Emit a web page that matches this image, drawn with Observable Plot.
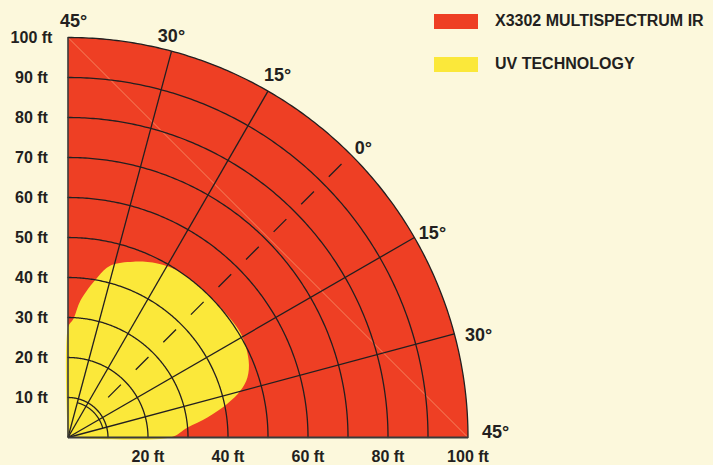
<!DOCTYPE html>
<html><head><meta charset="utf-8">
<script src="https://cdn.jsdelivr.net/npm/d3@7"></script>
<script src="https://cdn.jsdelivr.net/npm/@observablehq/plot@0.6"></script>
<style>
html,body{margin:0;padding:0;background:#fcf8dc;}
#wrap{position:relative;width:713px;height:465px;overflow:hidden;}
.lg{position:absolute;left:434px;display:flex;align-items:center;font:bold 16px "Liberation Sans",Arial,sans-serif;color:#231f20;white-space:nowrap;}
.sw{width:44px;height:15px;margin-right:17px;}
</style></head>
<body><div id="wrap"></div>
<script>
// ---- data ----
const series = ["X3302 MULTISPECTRUM IR", "UV TECHNOLOGY"];
const seriesColors = ["#ee3f24", "#fbe83a"];
const irRangeFt = 100;                       // X3302 coverage radius (ft)
const rings = [10, 20, 30, 40, 50, 60, 70, 80, 90, 100];
const yTickValues = [10, 20, 30, 40, 50, 60, 70, 80, 90, 100];
const yTickLabels = ["10 ft", "20 ft", "30 ft", "40 ft", "50 ft", "60 ft", "70 ft", "80 ft", "90 ft", "100 ft"];
const xTickValues = [20, 40, 60, 80, 100];
const xTickLabels = ["20 ft", "40 ft", "60 ft", "80 ft", "100 ft"];
const spokeAngles = [15, 30, 60, 75];           // plot angle (deg from horizontal)
const angleTickAngles = [0, 15, 30, 45, 60, 75, 90];
const angleTickLabels = ["45°", "30°", "15°", "0°", "15°", "30°", "45°"];
// UV technology coverage boundary (polar: angle deg from horizontal, radius ft)
const uvAngles = [0, 4.8, 8.2, 12, 15.2, 18.5, 23.1, 31.1, 40.4, 48.5, 56.7, 62.8, 69.6, 76.1, 79.6, 84.8, 87.3, 90];
const uvRadii  = [25.6, 30, 35.2, 40.8, 44.7, 47.3, 49.1, 50.4, 50.1, 50.0, 49.9, 48.9, 46.9, 44.3, 40.7, 34.4, 29.8, 27.5];

// ---- helpers ----
const rad = a => a * Math.PI / 180;
const P = (r, a) => ({x: r * Math.cos(rad(a)), y: r * Math.sin(rad(a))});
const arcPts = (r, a0, a1) => d3.range(a0, a1 + 0.001, 0.5).map(a => ({...P(r, a), r}));

const irPoly = [{x: 0, y: 0}, ...arcPts(irRangeFt, 0, 90), {x: 0, y: 0}];
const uvPoly = [{x: 0, y: 0}, ...uvAngles.map((a, i) => P(uvRadii[i], a)), {x: 0, y: 0}];
const ringPts = rings.flatMap(r => arcPts(r, 0, 90));
const innerArc = arcPts(9, 16, 74);
const spokes = spokeAngles.map(a => ({a, ...P(irRangeFt, a)}));
const dark = "#231f20";
const font = "Liberation Sans, Arial, sans-serif";

// per-label nudges (px) for the angle labels around the outer arc
const nudge = [[11.5, -5], [8.7, 5.7], [4.2, 4], [1.3, 5.2], [1.5, -1.7], [-4.2, 0.8], [5.5, 0]];
const angleMarks = angleTickAngles.map((a, i) =>
  Plot.text([{...P(104, a), t: angleTickLabels[i]}], {x: "x", y: "y", text: "t", textAnchor: "middle",
    dx: nudge[i][0], dy: nudge[i][1], fontSize: 18, fontWeight: "bold", fill: dark}));

const chart = Plot.plot({
  width: 713, height: 465,
  style: {background: "transparent", fontFamily: font},
  x: {domain: [0, 100], range: [67.5, 467.5], axis: null},
  y: {domain: [0, 100], range: [437, 37], axis: null},
  marks: [
    Plot.line(irPoly, {x: "x", y: "y", fill: seriesColors[0], stroke: "none"}),
    Plot.line(uvPoly, {x: "x", y: "y", fill: seriesColors[1], stroke: "none", curve: "catmull-rom", clip: true}),
    Plot.link([0], {x1: () => 0, y1: () => irRangeFt, x2: () => irRangeFt, y2: () => 0, stroke: "#f7a27a", strokeWidth: 0.7}),
    Plot.line(ringPts, {x: "x", y: "y", z: "r", stroke: dark, strokeWidth: 1.3}),
    Plot.line(innerArc, {x: "x", y: "y", stroke: dark, strokeWidth: 1.2}),
    Plot.link(spokes, {x1: () => 0, y1: () => 0, x2: "x", y2: "y", stroke: dark, strokeWidth: 1.3}),
    Plot.link([45], {x1: a => P(14.2, a).x, y1: a => P(14.2, a).y, x2: a => P(96.7, a).x, y2: a => P(96.7, a).y,
      stroke: dark, strokeWidth: 1.3, strokeDasharray: "18 21"}),
    Plot.link([0], {x1: () => 0, y1: () => 0, x2: () => 0, y2: () => irRangeFt, stroke: "#3a3a3a", strokeWidth: 1.6}),
    Plot.link([0], {x1: () => 0, y1: () => 0, x2: () => irRangeFt, y2: () => 0, stroke: "#3a3a3a", strokeWidth: 2}),
    Plot.text(yTickValues, {x: () => 0, y: d => d, text: (d, i) => yTickLabels[i], dx: -36.5, textAnchor: "middle",
      fontSize: 16, fontWeight: "bold", fill: dark}),
    Plot.text(xTickValues, {x: d => d, y: () => 0, text: (d, i) => xTickLabels[i], dy: 19.5, textAnchor: "middle",
      fontSize: 16, fontWeight: "bold", fill: dark}),
    ...angleMarks
  ]
});
const wrap = document.getElementById("wrap");
wrap.appendChild(chart);
const tops = [12, 55];
series.forEach((s, i) => {
  const d = document.createElement("div");
  d.className = "lg";
  d.style.top = tops[i] + "px";
  d.innerHTML = `<span class="sw" style="background:${seriesColors[i]}"></span><span>${s}</span>`;
  wrap.appendChild(d);
});
</script>
</body></html>
